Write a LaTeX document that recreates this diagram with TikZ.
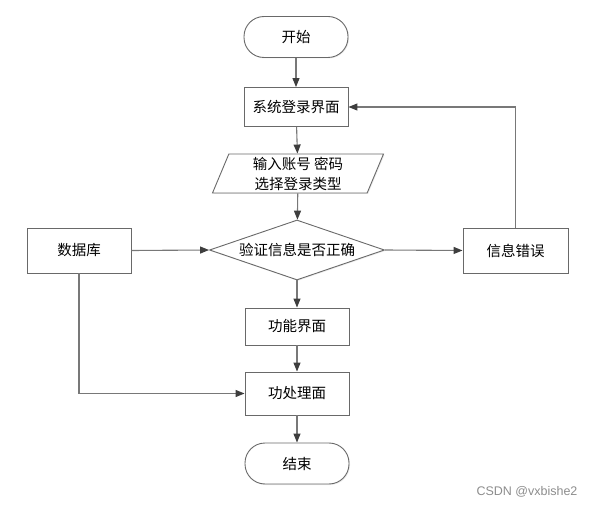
\documentclass[tikz,border=0pt]{standalone}
\usepackage{fontspec}
\setsansfont{Liberation Sans}
\newfontfamily\cjk{Noto Sans CJK SC}
\usepackage{tikz}
\usetikzlibrary{arrows.meta,shapes.geometric,shadows}
\definecolor{linegray}{RGB}{120,120,120}
\definecolor{tipgray}{RGB}{62,62,62}
\definecolor{boxgray}{RGB}{105,105,105}
\tikzset{
  flowbox/.style   = {rectangle, draw=boxgray, line width=0.9pt, fill=white,
                      minimum width=104pt, inner sep=0pt,
                      font=\cjk\fontsize{14.5}{20}\selectfont,
                      drop shadow={shadow xshift=1pt, shadow yshift=-1pt, opacity=0.15}},
  termbox/.style   = {flowbox, rounded corners=20pt, minimum height=41pt},
  iobox/.style     = {flowbox, trapezium, trapezium left angle=64, trapezium right angle=116,
                      trapezium stretches body, minimum width=171pt, minimum height=39pt,
                      align=center},
  decbox/.style    = {flowbox, diamond, aspect=2.9, minimum width=175pt, minimum height=60pt},
  flow/.style      = {draw=linegray, line width=1.1pt,
                      -{Triangle[length=9pt,width=7pt,color=tipgray]}},
  plainflow/.style = {draw=linegray, line width=1.1pt},
}

\begin{document}
\begin{tikzpicture}[x=1pt,y=-1pt]
  \useasboundingbox (0,0) rectangle (595,505);

  % main column
  \node[termbox] (start) at (296,37) {开始};
  \node[flowbox, minimum height=39pt] (login) at (296,107) {系统登录界面};
  \node[iobox] (input) at (298,173.5) {输入账号 密码\\选择登录类型};
  \node[decbox] (check) at (297,250) {验证信息是否正确};
  \node[flowbox, minimum height=37pt] (func) at (297,326.5) {功能界面};
  \node[flowbox, minimum height=43pt] (proc) at (297,393.5) {功处理面};
  \node[termbox] (stop) at (297,463.5) {结束};

  % side boxes
  \node[flowbox, minimum height=45pt] (db) at (79,250.5) {数据库};
  \node[flowbox, minimum width=105pt, minimum height=45pt] (err) at (515.5,250.5) {信息错误};

  \draw[flow] (start) -- (login);
  \draw[flow] (login) -- (input);
  \draw[flow] (input) -- (check);
  \draw[flow] (check) -- (func);
  \draw[flow] (func) -- (proc);
  \draw[flow] (proc) -- (stop);

  \draw[flow] (db.east) -- (check.west);
  \draw[flow] (check.east) -- (err.west);
  \draw[flow] (err.north) |- (login.east);
  \draw[flow] (db.south) |- (proc.west);

  % watermark
  \node[font=\sffamily\fontsize{12.5}{14}\selectfont, text=black!45] (wm) at (527,492) {CSDN @vxbishe2};
\end{tikzpicture}
\end{document}
